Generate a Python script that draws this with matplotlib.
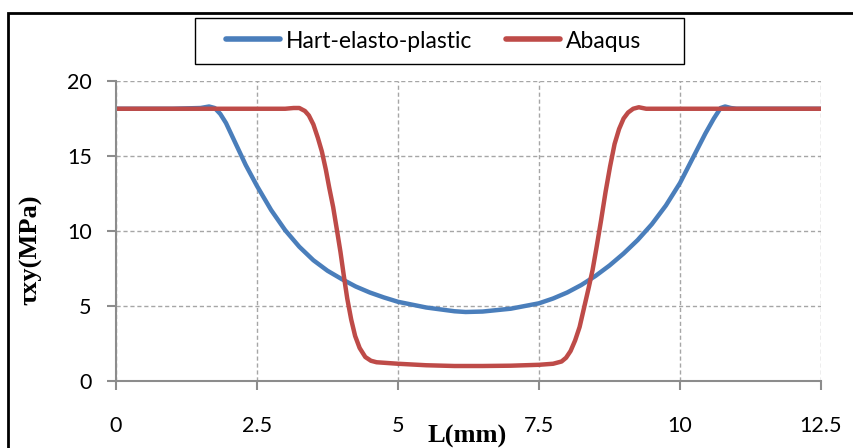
import matplotlib
matplotlib.use("Agg")
import matplotlib.pyplot as plt
from matplotlib.patches import Rectangle

hart_x = [0, 1.0, 1.5, 1.65, 1.75, 1.85, 1.95, 2.05, 2.15, 2.3, 2.5, 2.75, 3.0, 3.25, 3.5,
          3.75, 4.0, 4.25, 4.5, 4.75, 5.0, 5.5, 6.0, 6.2, 6.5, 7.0, 7.5, 7.75, 8.0, 8.25,
          8.5, 8.75, 9.0, 9.25, 9.5, 9.75, 10.0, 10.15, 10.3, 10.45, 10.6, 10.72, 10.8,
          10.9, 11.0, 12.5]
hart_y = [18.15, 18.15, 18.2, 18.3, 18.2, 17.8, 17.2, 16.4, 15.6, 14.4, 13.0, 11.4, 10.05,
          8.95, 8.05, 7.35, 6.8, 6.3, 5.9, 5.57, 5.28, 4.9, 4.65, 4.6, 4.63, 4.82, 5.18, 5.5,
          5.9, 6.4, 7.0, 7.7, 8.5, 9.4, 10.45, 11.7, 13.2, 14.3, 15.4, 16.5, 17.5, 18.2,
          18.3, 18.2, 18.15, 18.15]

abaqus_x = [0, 3.0, 3.15, 3.25, 3.35, 3.42, 3.5, 3.58, 3.65, 3.72, 3.78, 3.85, 3.92, 3.98,
            4.04, 4.1, 4.17, 4.24, 4.32, 4.42, 4.52, 4.62, 5.0, 5.5, 6.0, 6.5, 7.0, 7.5,
            7.75, 7.9, 7.98, 8.06, 8.14, 8.22, 8.3, 8.38, 8.45, 8.52, 8.6, 8.68, 8.76,
            8.84, 8.92, 9.0, 9.08, 9.17, 9.27, 9.4, 12.5]
abaqus_y = [18.15, 18.15, 18.2, 18.2, 18.0, 17.7, 17.1, 16.2, 15.3, 14.1, 12.9, 11.6, 10.0,
            8.6, 7.0, 5.5, 4.1, 3.0, 2.2, 1.6, 1.35, 1.25, 1.15, 1.05, 1.0, 1.0, 1.02, 1.08,
            1.15, 1.3, 1.55, 2.0, 2.7, 3.6, 4.9, 6.2, 7.4, 8.9, 10.7, 12.6, 14.3, 15.8, 16.8,
            17.5, 17.9, 18.15, 18.25, 18.15, 18.15]

x_ticks = [0, 2.5, 5, 7.5, 10, 12.5]
x_ticklabels = ["0", "2.5", "5", "7.5", "10", "12.5"]
y_ticks = [0, 5, 10, 15, 20]

W, H = 854, 448
fig = plt.figure(figsize=(W / 100, H / 100), dpi=100)
ax = fig.add_axes([116 / W, 1 - 381 / H, (821 - 116) / W, 300 / H])

tick_font = "Lato"
ax.plot(hart_x, hart_y, color="#4a7ebb", lw=3.2, solid_capstyle="round",
        solid_joinstyle="round", label="Hart-elasto-plastic")
ax.plot(abaqus_x, abaqus_y, color="#be4b48", lw=3.2, solid_capstyle="round",
        solid_joinstyle="round", label="Abaqus")

ax.set_xlim(0, 12.5)
ax.set_ylim(0, 20)
ax.set_xticks(x_ticks)
ax.set_xticklabels(x_ticklabels)
ax.set_yticks(y_ticks)
ax.grid(True, color="#a6a6a6", linestyle=(0, (3, 2)), lw=1)
ax.set_axisbelow(True)
for s in ["top", "right"]:
    ax.spines[s].set_visible(False)
for s in ["left", "bottom"]:
    ax.spines[s].set_color("#8c8c8c")
    ax.spines[s].set_linewidth(1.5)
ax.tick_params(axis="both", color="#8c8c8c", width=1.5, length=6.5, direction="out")
ax.tick_params(axis="y", pad=11)
ax.tick_params(axis="x", pad=19)
for lab in ax.get_xticklabels() + ax.get_yticklabels():
    lab.set_fontfamily(tick_font)
    lab.set_fontsize(15.5)
    lab.set_color("black")

fig.text(467 / W, 1 - 436 / H, "L(mm)", ha="center", va="center",
         fontfamily="Liberation Serif", fontweight="bold", fontsize=19)
fig.text(31 / W, 1 - 250 / H, "τxy(MPa)", ha="center", va="center", rotation=90,
         fontfamily="Liberation Serif", fontweight="bold", fontsize=19)

leg = fig.legend(loc="center left", bbox_to_anchor=(226 / W, 1 - 41 / H), ncol=2,
                 prop={"family": tick_font, "size": 16.5}, frameon=False,
                 handlelength=2.35, handletextpad=0.25, columnspacing=1.5,
                 borderpad=0.0, borderaxespad=0.0)
for h in leg.legend_handles:
    h.set_linewidth(4)
    h.set_solid_capstyle("round")

fig.patches.append(Rectangle((195 / W, 1 - 64 / H), (684 - 195) / W, 46 / H,
                             transform=fig.transFigure, fill=False, edgecolor="black",
                             lw=1.0))
fig.patches.append(Rectangle((8 / W, -0.1), 1.2, 1 - 13 / H + 0.1, transform=fig.transFigure,
                             fill=False, edgecolor="black", lw=2, clip_on=False))

fig.savefig("out.png", dpi=100)
